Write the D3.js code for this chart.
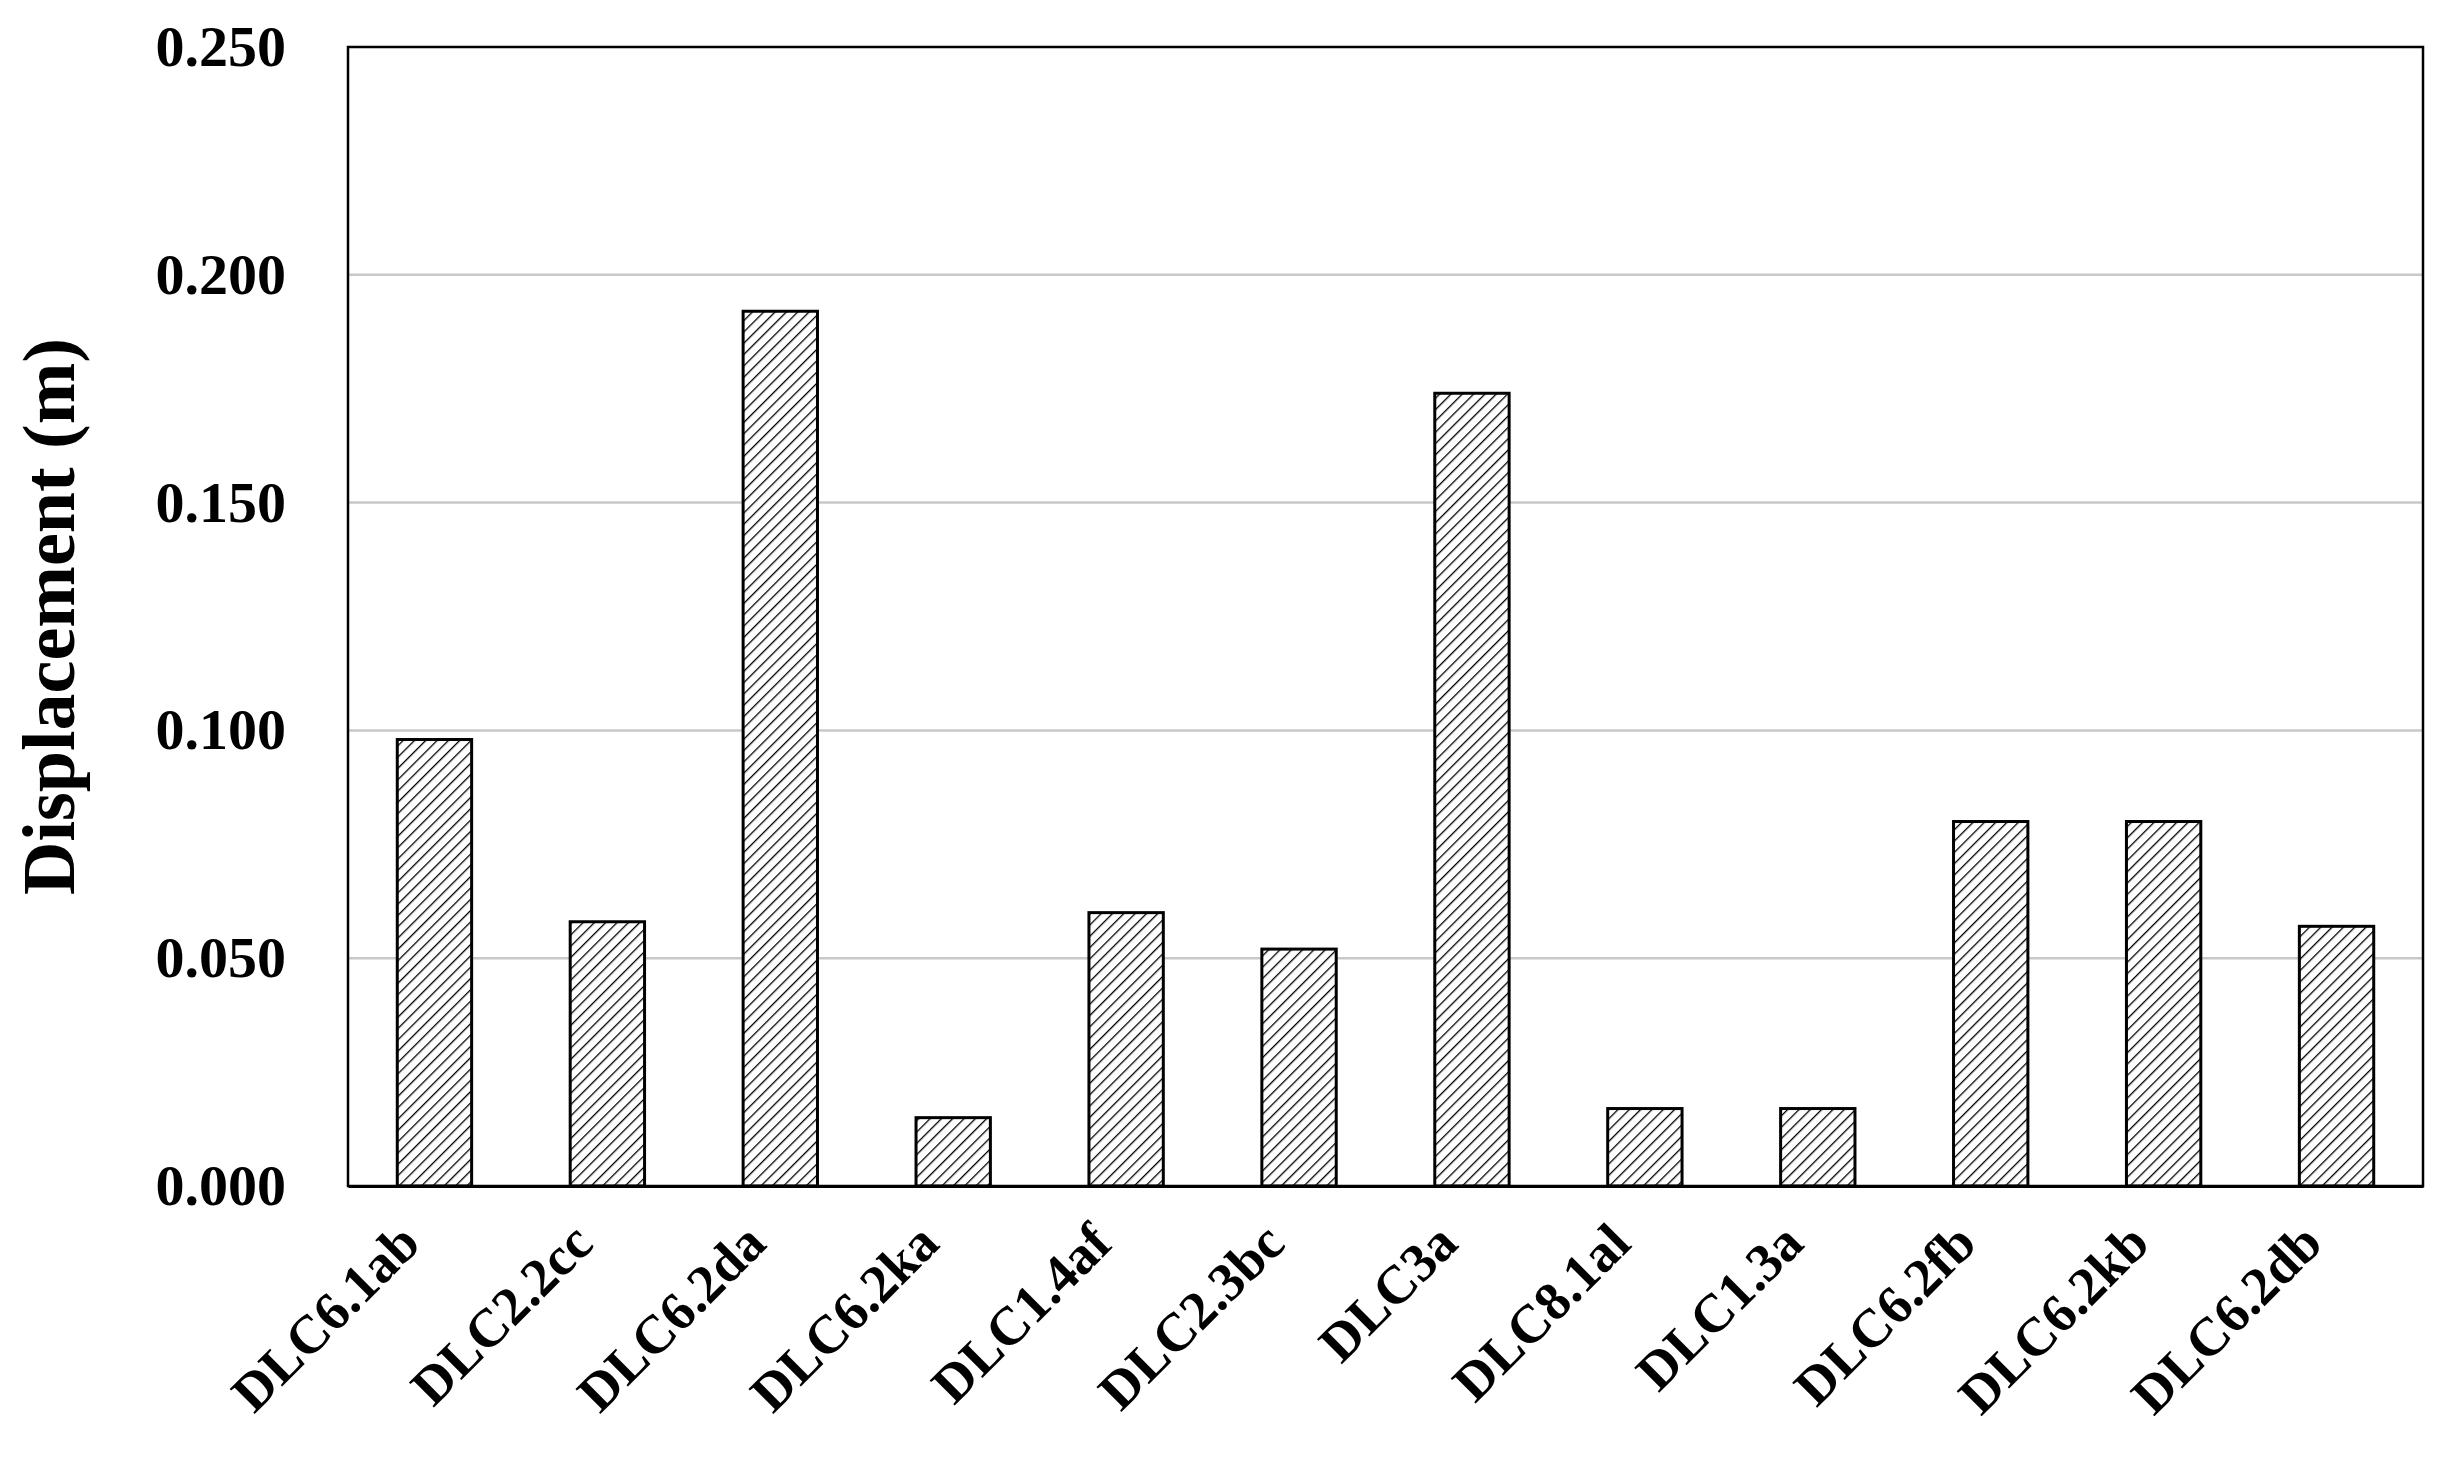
<!DOCTYPE html>
<html><head><meta charset="utf-8">
<script src="https://cdn.jsdelivr.net/npm/d3@7"></script>
<style>body{margin:0;background:#fff}</style>
</head><body><svg id="c" width="2439" height="1467"></svg>
<script>
const categories = ["DLC6.1ab","DLC2.2cc","DLC6.2da","DLC6.2ka","DLC1.4af","DLC2.3bc","DLC3a","DLC8.1al","DLC1.3a","DLC6.2fb","DLC6.2kb","DLC6.2db"];
const displacement = [0.098,0.058,0.192,0.015,0.060,0.052,0.174,0.017,0.017,0.080,0.080,0.057];
const yTicks = [0,0.05,0.1,0.15,0.2,0.25];

const m = {left:348, right:16, top:47, bottom:281};
const W = 2439, H = 1467;
const svg = d3.select("#c");
const font = "'Liberation Serif','Times New Roman',serif";

const defs = svg.append("defs");
const pat = defs.append("pattern").attr("id","hatch").attr("patternUnits","userSpaceOnUse")
  .attr("width",8).attr("height",8).attr("patternTransform","rotate(45)");
pat.append("rect").attr("width",8).attr("height",8).attr("fill","#fff");
pat.append("line").attr("x1",0).attr("y1",0).attr("x2",0).attr("y2",8).attr("stroke","#000").attr("stroke-width",2.6);

const x = d3.scaleBand().domain(categories).range([m.left, W-m.right]).paddingInner(0.57).paddingOuter(0.285);
const y = d3.scaleLinear().domain([0,0.25]).range([H-m.bottom, m.top]);

// gridlines
svg.append("g").selectAll("line").data(yTicks.slice(1,-1)).join("line")
  .attr("x1",m.left).attr("x2",W-m.right).attr("y1",d=>y(d)).attr("y2",d=>y(d))
  .attr("stroke","#c8c8c8").attr("stroke-width",2.5);

svg.append("g").selectAll("rect").data(categories).join("rect")
  .attr("x",d=>x(d)).attr("width",x.bandwidth())
  .attr("y",(d,i)=>y(displacement[i])).attr("height",(d,i)=>y(0)-y(displacement[i]))
  .attr("fill","url(#hatch)").attr("stroke","#000").attr("stroke-width",3);

// frame
svg.append("rect").attr("x",m.left).attr("y",m.top).attr("width",W-m.left-m.right).attr("height",H-m.top-m.bottom)
  .attr("fill","none").attr("stroke","#000").attr("stroke-width",2.5);

const ya = svg.append("g").attr("transform",`translate(${m.left},0)`)
  .call(d3.axisLeft(y).tickValues(yTicks).tickFormat(d3.format(".3f")).tickSize(0).tickPadding(62));
ya.select(".domain").remove();
ya.selectAll("text").attr("font-family",font).attr("font-weight","bold").attr("font-size",58).attr("fill","#000");

const xa = svg.append("g").attr("transform",`translate(0,${H-m.bottom})`)
  .call(d3.axisBottom(x).tickSize(0));
xa.select(".domain").attr("stroke","#000").attr("stroke-width",3);
xa.selectAll("text").attr("font-family",font).attr("font-weight","bold").attr("font-size",54).attr("fill","#000")
  .attr("text-anchor","end").attr("dy",0)
  .attr("transform","translate(-14,58) rotate(-45)");

svg.append("text").attr("transform",`translate(74,${(m.top+H-m.bottom)/2}) rotate(-90)`)
  .attr("text-anchor","middle").attr("font-family",font).attr("font-weight","bold").attr("font-size",74)
  .text("Displacement (m)");
</script></body></html>
